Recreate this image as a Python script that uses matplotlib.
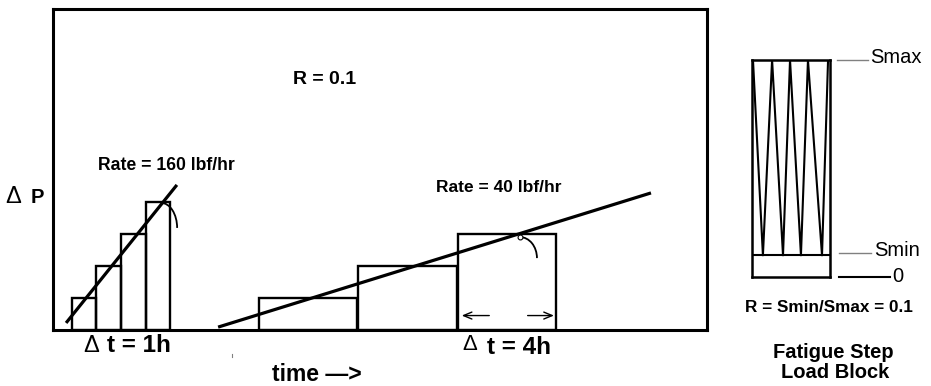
import matplotlib
matplotlib.use('Agg')
import matplotlib.pyplot as plt
from matplotlib.patches import Arc

plt.rcParams['font.family'] = ['Liberation Sans', 'DejaVu Sans']

# Step load schedule (time in hours, load step in units of delta P)
fast_starts = [0.75, 1.75, 2.75, 3.75]
fast_heights = [1, 2, 3, 4]
fast_width = 1.0  # delta t = 1h

slow_starts = [8.33, 12.35, 16.4]
slow_heights = [1, 2, 3]
slow_width = 4.0  # delta t = 4h

# Loading-rate lines
rate160_t = [0.53, 5.02]
rate160_p = [0.22, 4.52]
rate40_t = [6.69, 24.23]
rate40_p = [0.09, 4.27]

# Fatigue load block (cycles vs normalised stress)
block_x = [0.05, 0.56, 1.03, 1.59, 1.95, 2.51, 2.87, 3.59, 3.9]
block_y = [1.0, 0.1, 1.0, 0.1, 1.0, 0.1, 1.0, 0.1, 1.0]
s_max = 1.0
s_min = 0.1

W, H = 931, 386
fig = plt.figure(figsize=(W / 100, H / 100), dpi=100)

# main step-load plot
ax = fig.add_axes([53 / W, (H - 330) / H, 654 / W, 321 / H])
ax.set_xlim(0, 26.5)
ax.set_ylim(0, 10)
ax.set_xticks([])
ax.set_yticks([])
for s in ax.spines.values():
    s.set_linewidth(2.2)

ax.bar(fast_starts, fast_heights, width=fast_width, align='edge', fill=False,
       edgecolor='black', linewidth=1.7)
ax.bar(slow_starts, slow_heights, width=slow_width, align='edge', fill=False,
       edgecolor='black', linewidth=1.7)
ax.plot(rate160_t, rate160_p, color='black', lw=2.3, solid_capstyle='butt')
ax.plot(rate40_t, rate40_p, color='black', lw=2.3, solid_capstyle='butt')

# angle marks
ax.add_patch(Arc((4.38, 3.18), 1.30, 1.56, theta1=0, theta2=90, color='black', lw=1.3))
ax.add_patch(Arc((18.92, 2.24), 1.38, 1.31, theta1=0, theta2=90, color='black', lw=1.3))
ax.plot([18.92], [2.9], 'o', ms=3.5, mfc='white', mec='black', mew=0.8)

# delta t = 4h arrows
ax.annotate('', xy=(16.45, 0.45), xytext=(17.79, 0.45),
            arrowprops=dict(arrowstyle='->,head_length=0.6,head_width=0.25', lw=1, color='black'))
ax.annotate('', xy=(20.41, 0.45), xytext=(19.12, 0.45),
            arrowprops=dict(arrowstyle='->,head_length=0.6,head_width=0.25', lw=1, color='black'))

# fatigue load block
axb = fig.add_axes([752 / W, (H - 277) / H, 78 / W, 217 / H])
axb.set_xlim(0, 4)
axb.set_ylim(0, 1)
axb.set_xticks([])
axb.set_yticks([])
for s in axb.spines.values():
    s.set_linewidth(1.8)
axb.plot(block_x, block_y, color='black', lw=1.5)
axb.axhline(s_min, color='black', lw=1.5)
axb.plot([4.36, 5.95], [s_max, s_max], color='gray', lw=1, clip_on=False)
axb.plot([4.45, 6.1], [s_min + 0.01, s_min + 0.01], color='gray', lw=1, clip_on=False)
axb.plot([4.45, 7.1], [0, 0], color='black', lw=1.5, clip_on=False)
axb.text(6.05, s_max + 0.01, 'Smax', fontsize=14.5, va='center', ha='left', clip_on=False)
axb.text(6.25, s_min + 0.02, 'Smin', fontsize=14.5, va='center', ha='left', clip_on=False)
axb.text(7.2, 0, '0', fontsize=14.5, va='center', ha='left', clip_on=False)

# overlay in pixel coordinates for annotations
ax0 = fig.add_axes([0, 0, 1, 1])
ax0.set_xlim(0, W)
ax0.set_ylim(H, 0)
ax0.axis('off')
ax0.set_zorder(10)
ax0.patch.set_visible(False)

ax0.text(293, 79, 'R = 0.1', fontsize=14, fontweight='bold', va='center', ha='left')
ax0.text(98, 166, 'Rate = 160 lbf/hr', fontsize=12.7, fontweight='bold', va='center', ha='left')
ax0.text(436, 187, 'Rate = 40 lbf/hr', fontsize=12.5, fontweight='bold', va='center', ha='left')
ax0.text(5, 203, '\u0394', fontsize=17, va='baseline', ha='left')
ax0.text(31, 203, 'P', fontsize=14.5, fontweight='bold', va='baseline', ha='left')
ax0.text(83, 352, '\u0394', fontsize=17, va='baseline', ha='left')
ax0.text(107, 352, 't = 1h', fontsize=17.5, fontweight='bold', va='baseline', ha='left')
ax0.text(462, 350, '\u0394', fontsize=16, va='baseline', ha='left')
ax0.text(487, 354, 't = 4h', fontsize=17.5, fontweight='bold', va='baseline', ha='left')
ax0.text(272, 381, 'time \u2014>', fontsize=16.5, fontweight='bold', va='baseline', ha='left')
ax0.plot([232, 232], [354, 357], color='gray', lw=0.8)

ax0.text(745, 307, 'R = Smin/Smax = 0.1', fontsize=12.3, fontweight='bold', va='center', ha='left')
ax0.text(833, 352, 'Fatigue Step', fontsize=14.5, fontweight='bold', va='center', ha='center')
ax0.text(835, 372, 'Load Block', fontsize=14.5, fontweight='bold', va='center', ha='center')

fig.savefig('out.png', dpi=100)
